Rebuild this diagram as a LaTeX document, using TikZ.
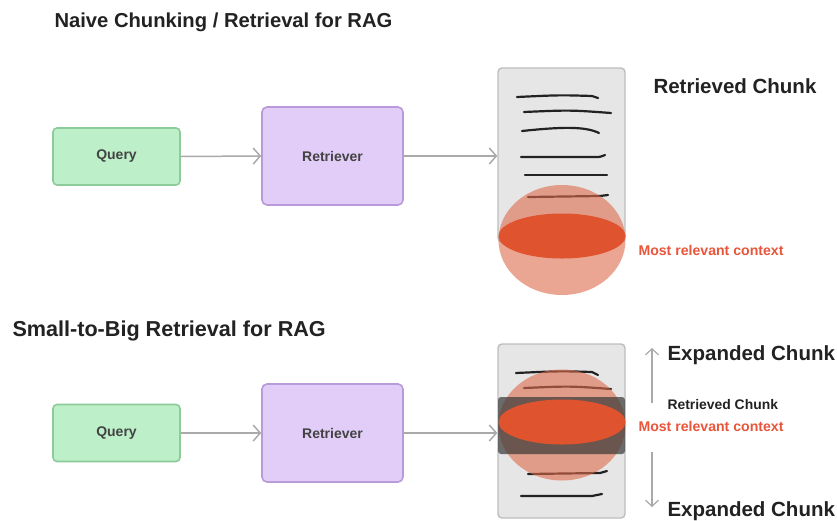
\documentclass[tikz,border=0pt]{standalone}
\usepackage{fontspec}
\setmainfont{Liberation Sans}
\usetikzlibrary{arrows.meta}
\definecolor{qfill}{HTML}{BDF0C9}
\definecolor{qdraw}{HTML}{8DCB9A}
\definecolor{rfill}{HTML}{E1CDF8}
\definecolor{rdraw}{HTML}{B79CD9}
\definecolor{docfill}{HTML}{E6E6E6}
\definecolor{docdraw}{HTML}{BDBDBD}
\definecolor{arrgray}{HTML}{AAAAAA}
\definecolor{salmon}{HTML}{DD6B4A}
\definecolor{hot}{HTML}{E0532F}
\definecolor{hottext}{HTML}{E8553A}
\definecolor{ink}{HTML}{222222}
\tikzset{
  qbox/.style={draw=qdraw, fill=qfill, line width=1.6pt, rounded corners=4pt, minimum width=127pt, minimum height=57pt, font=\bfseries\fontsize{14}{16}\selectfont, text=ink!85},
  rbox/.style={draw=rdraw, fill=rfill, line width=1.6pt, rounded corners=5pt, minimum width=141pt, minimum height=98pt, font=\bfseries\fontsize{14}{16}\selectfont, text=ink!85},
  docbox/.style={draw=docdraw, fill=docfill, line width=1.4pt, rounded corners=4pt, minimum width=127pt},
  flow/.style={draw=arrgray, line width=1.5pt, -{Straight Barb[length=7pt,width=16pt,line width=1.5pt]}},
  vflow/.style={draw=arrgray, line width=1.2pt, -{Straight Barb[length=6pt,width=13pt,line width=1.2pt]}},
  scrib/.style={draw=ink, line width=2.2pt, line cap=round},
  title/.style={font=\bfseries\fontsize{20.2}{23}\selectfont, text=ink, anchor=west},
  titleb/.style={font=\bfseries\fontsize{21.6}{23}\selectfont, text=ink, anchor=west},
  bigl/.style={font=\bfseries\fontsize{20.5}{23}\selectfont, text=ink, anchor=west},
  hotl/.style={font=\bfseries\fontsize{14.1}{16}\selectfont, text=hottext, anchor=west},
  smalll/.style={font=\bfseries\fontsize{13.9}{16}\selectfont, text=ink, anchor=west},
}
\begin{document}
\begin{tikzpicture}[x=1pt,y=-1pt]
\useasboundingbox[fill=white] (0,0) rectangle (837,520);

% ---------- top ----------
\node[title] (t1) at (51,22) {Naive Chunking / Retrieval for RAG};
\node[qbox] (q1) at (116.5,156.5) {Query};
\node[rbox] (r1) at (332.5,156) {Retriever};
\node[docbox, minimum height=174pt] (d1) at (561.5,155) {};
\draw[flow] (q1.east) -- (r1.west);
\draw[flow] (r1.east) -- (r1.east -| d1.west);
\draw[scrib] (517,97) .. controls (560,95) .. (592,96) -- (598,98);
\draw[scrib] (524,112) .. controls (570,110) .. (611,113);
\draw[scrib] (522,131) .. controls (560,127) and (585,126) .. (599,133);
\draw[scrib] (521,157) -- (595,157) .. controls (600,157) .. (605,155);
\draw[scrib] (525,175) -- (607,175);
\draw[scrib] (528,197) -- (600,196) -- (608,195);
\fill[salmon, opacity=0.6] (562,240) ellipse [x radius=63.5, y radius=55];
\fill[hot] (562,236) ellipse [x radius=63.5, y radius=22.5];
\node[bigl] (rc1) at (650,86) {Retrieved Chunk};
\node[hotl] (mr1) at (635,250) {Most relevant context};

% ---------- bottom ----------
\node[titleb] (t2) at (9,331) {Small-to-Big Retrieval for RAG};
\node[qbox] (q2) at (116.5,433) {Query};
\node[rbox] (r2) at (332.5,433) {Retriever};
\node[docbox, minimum height=174pt] (d2) at (561.5,431) {};
\draw[flow] (q2.east) -- (r2.west);
\draw[flow] (r2.east) -- (r2.east -| d2.west);
\draw[scrib] (516,373) .. controls (560,371) .. (592,372) -- (598,375);
\draw[scrib] (524,388) .. controls (570,386) .. (611,389);
\draw[scrib] (528,474) -- (600,473) -- (607,471);
\draw[scrib] (521,496) -- (592,496) -- (602,494);
\fill[salmon, opacity=0.6] (562,425) ellipse [x radius=63.5, y radius=55.5];
\fill[black!78, opacity=0.7, rounded corners=3pt] (498,397) rectangle (625,454);
\fill[hot] (562,422) ellipse [x radius=63.5, y radius=22.5];
\node[bigl] (ec1) at (664,355) {Expanded Chunk};
\node[smalll] (rc2) at (664,405) {Retrieved Chunk};
\node[hotl] (mr2) at (635,426) {Most relevant context};
\node[bigl] (ec2) at (664,511) {Expanded Chunk};
\coordinate (upS) at (652,403);
\coordinate (upE) at (652,348);
\coordinate (dnS) at (652,452);
\coordinate (dnE) at (652,507);
\draw[vflow] (upS) -- (upE);
\draw[vflow] (dnS) -- (dnE);
\end{tikzpicture}
\end{document}
